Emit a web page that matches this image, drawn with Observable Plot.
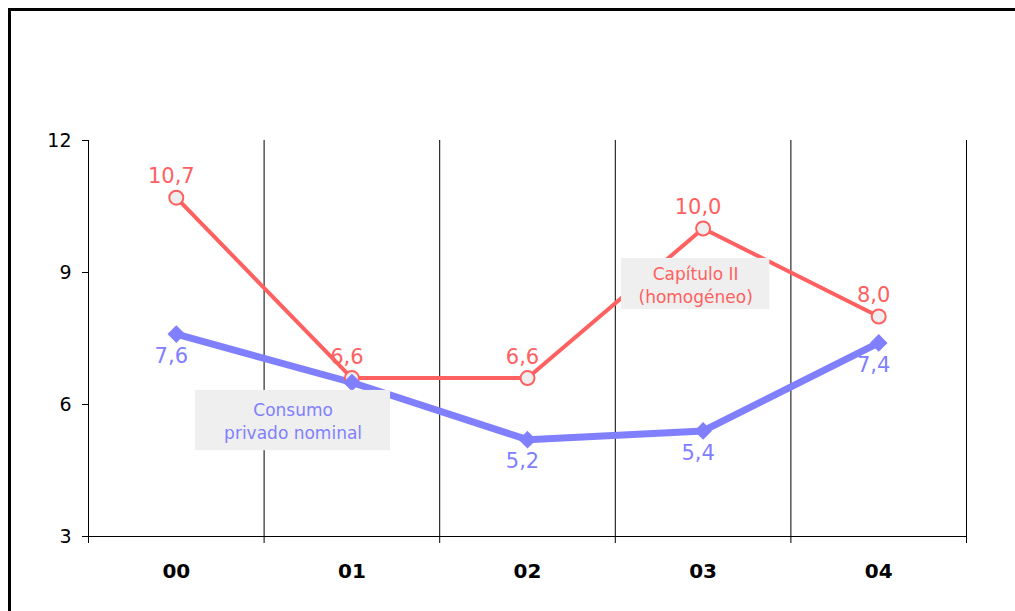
<!DOCTYPE html>
<html>
<head>
<meta charset="utf-8">
<script src="https://cdn.jsdelivr.net/npm/d3@7"></script>
<script src="https://cdn.jsdelivr.net/npm/@observablehq/plot@0.6"></script>
<style>
  html, body { margin: 0; padding: 0; background: #fff; overflow: hidden; }
  #frame { position: absolute; left: 8px; top: 8px; width: 1030px; height: 630px; border: 3px solid #000; background: #fff; }
  #chart { position: absolute; left: 0; top: 0; }
</style>
</head>
<body>
<div id="frame"><div id="chart"></div></div>
<script>
const years = ["00", "01", "02", "03", "04"];
const capitulo = [10.7, 6.6, 6.6, 10.0, 8.0];
const consumo = [7.6, 6.5, 5.2, 5.4, 7.4];
const yTicks = [3, 6, 9, 12];
const notes = [
  {label: "Consumo\nprivado nominal", series: "consumo", x1: 0.11, x2: 1.22, y1: 4.95, y2: 6.32},
  {label: "Capítulo II\n(homogéneo)", series: "capitulo", x1: 2.535, x2: 3.38, y1: 8.16, y2: 9.32}
];

const red = "#ff6060";
const blue = "#8080ff";
const idx = years.map((d, i) => i);
const bounds = years.map((d, i) => i - 0.5).concat([years.length - 0.5]);
const redData = idx.map(i => ({x: i, y: capitulo[i], t: capitulo[i].toFixed(1).replace(".", ",")}));
const blueData = idx.map(i => ({x: i, y: consumo[i], t: consumo[i].toFixed(1).replace(".", ",")}));
const noteData = notes.map(n => ({...n, cx: (n.x1 + n.x2) / 2, cy: (n.y1 + n.y2) / 2}));

const chart = Plot.plot({
  width: 1004,
  height: 600,
  marginLeft: 77,
  marginRight: 49,
  marginTop: 129,
  marginBottom: 75,
  style: {fontFamily: "DejaVu Sans, Verdana, sans-serif", background: "transparent"},
  x: {domain: [-0.5, years.length - 0.5], axis: null},
  y: {domain: [3, 12], axis: null},
  marks: [
    Plot.ruleX(bounds, {y1: 3, y2: 12, stroke: "#000", strokeWidth: 1}),
    Plot.ruleY([3], {x1: -0.5, x2: years.length - 0.5, stroke: "#000", strokeWidth: 1}),
    Plot.axisX({ticks: bounds, tickSize: 7, tickFormat: () => "", stroke: "#000", strokeOpacity: 1}),
    Plot.axisX({ticks: idx, tickSize: 0, tickPadding: 27, tickFormat: i => years[i], fontSize: 20, fontWeight: "bold", fill: "#000"}),
    Plot.axisY({ticks: yTicks, tickSize: 6, tickPadding: 11, fontSize: 19, fill: "#000", stroke: "#000", strokeOpacity: 1}),
    Plot.line(blueData, {x: "x", y: "y", stroke: blue, strokeWidth: 7}),
    Plot.line(redData, {x: "x", y: "y", stroke: red, strokeWidth: 4}),
    Plot.dot(redData, {x: "x", y: "y", r: 7, fill: "#eeeeee", stroke: red, strokeWidth: 2}),
    Plot.dot(blueData, {x: "x", y: "y", symbol: "diamond2", r: 7, fill: blue, stroke: blue}),
    Plot.text(redData, {x: "x", y: "y", text: "t", dy: -21, dx: -5, fill: red, fontSize: 21}),
    Plot.text(blueData, {x: "x", y: "y", text: "t", dy: 22, dx: -5, fill: blue, fontSize: 21}),
    Plot.rect(noteData, {x1: "x1", x2: "x2", y1: "y1", y2: "y2", fill: "#efefef"}),
    Plot.text(noteData, {x: "cx", y: "cy", text: "label", fill: d => d.series === "capitulo" ? red : blue, fontSize: 17, lineHeight: 1.35})
  ]
});
document.getElementById("chart").appendChild(chart);
</script>
</body>
</html>
